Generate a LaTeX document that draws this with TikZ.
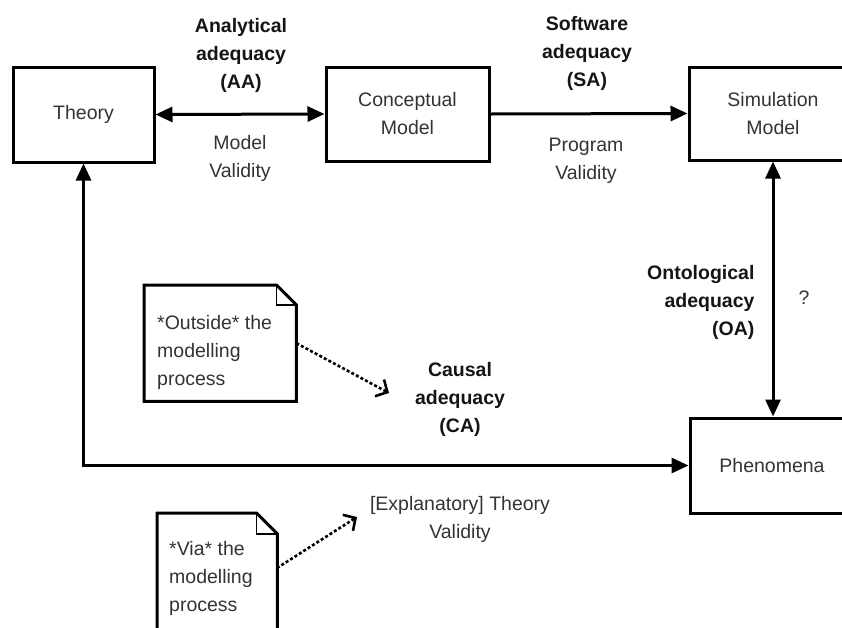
\documentclass[tikz,border=0pt]{standalone}
\usepackage{fontspec}
\setmainfont{Liberation Sans}
\usetikzlibrary{arrows.meta}
\definecolor{ink}{HTML}{333333}
\definecolor{inkbold}{HTML}{151515}
\begin{document}
\begin{tikzpicture}[x=1pt,y=-1pt,
  every node/.style={font=\fontsize{19.5}{28}\selectfont, text=ink},
  box/.style={draw=black, line width=3pt, align=center},
  lbl/.style={align=center},
  blbl/.style={align=center, font=\fontsize{19.5}{28}\selectfont\bfseries, text=inkbold},
  notebox/.style={draw=black, line width=3pt, line join=miter},
  notefold/.style={draw=black, line width=1.3pt},
  notetext/.style={anchor=north west, inner sep=0pt, align=left},
  link/.style={line width=3pt, -{Triangle[length=17pt,width=15pt]}},
  dlink/.style={line width=3pt, {Triangle[length=17pt,width=15pt]}-{Triangle[length=17pt,width=15pt]}},
  hint/.style={line width=2.6pt, dash pattern=on 3pt off 2.2pt,
    -{Straight Barb[length=9pt,width=19pt,line width=2.6pt]}},
]
\useasboundingbox (0,0) rectangle (842,627);

% main boxes
\node[box, minimum width=141pt, minimum height=95pt] (theory) at (83.5,114.5) {Theory};
\node[box, minimum width=163pt, minimum height=94pt] (concept) at (407.5,114) {Conceptual\\Model};
\node[box, minimum width=168pt, minimum height=93pt] (sim) at (773,113.5) {Simulation\\Model};
\node[box, minimum width=164pt, minimum height=95pt] (phen) at (772,465.5) {Phenomena};

% connectors between the boxes
\draw[dlink] (theory.east) -- (concept.west);
\draw[link] (concept.east) -- (sim.west);
\draw[dlink] (sim.south) -- (sim.south |- phen.north);
\draw[dlink] (theory.south) |- (phen.west);

% connector labels
\node[blbl] (aa) at (241,55) {Analytical\\adequacy\\(AA)};
\node[lbl] (mv) at (240,158) {Model\\Validity};
\node[blbl] (sa) at (587,53) {Software\\adequacy\\(SA)};
\node[lbl] (pv) at (586,161) {Program\\Validity};
\node[blbl, align=right, anchor=east] (oa) at (758,302) {Ontological\\adequacy\\(OA)};
\node (q) at (804,298) {?};
\node[blbl] (ca) at (460,399) {Causal\\adequacy\\(CA)};
\node[lbl] (tv) at (460,519) {[Explanatory] Theory\\Validity};

% note: outside the modelling process
\node[anchor=north west, minimum width=152pt, minimum height=116pt, inner sep=0pt] (note1) at (144,285) {};
\draw[notebox] (note1.north west) -- ([xshift=-20pt]note1.north east) -- ([yshift=-20pt]note1.north east)
  -- (note1.south east) -- (note1.south west) -- cycle;
\draw[notefold] ([xshift=-20pt]note1.north east) -- ++(0,20) -- ++(20,0);
\node[notetext] (note1txt) at (157,315) {*Outside* the\\modelling\\process};

% note: via the modelling process
\node[anchor=north west, minimum width=120pt, minimum height=140pt, inner sep=0pt] (note2) at (157,513) {};
\draw[notebox] (note2.north west) -- ([xshift=-21pt]note2.north east) -- ([yshift=-21pt]note2.north east)
  -- (note2.south east) -- (note2.south west) -- cycle;
\draw[notefold] ([xshift=-21pt]note2.north east) -- ++(0,21) -- ++(21,0);
\node[notetext] (note2txt) at (169,541) {*Via* the\\modelling\\process};

% dotted pointers from the notes
\coordinate (catip) at (389,393);
\coordinate (n2out) at (277,568);
\coordinate (tvtip) at (357,517);
\draw[hint] (note1.east) -- (catip);
\draw[hint] (n2out) -- (tvtip);
\end{tikzpicture}
\end{document}
